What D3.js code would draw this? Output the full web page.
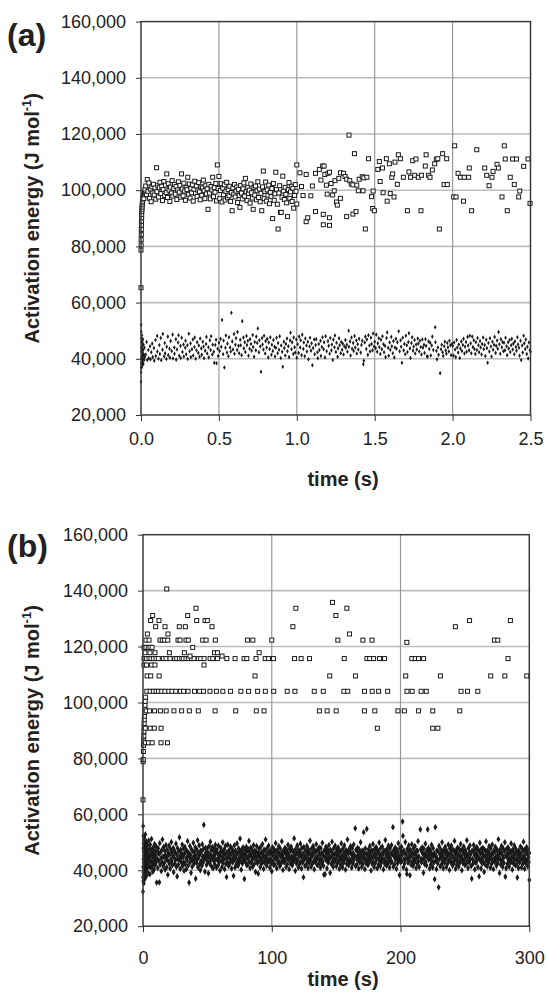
<!DOCTYPE html>
<html>
<head>
<meta charset="utf-8">
<script src="https://cdn.jsdelivr.net/npm/d3@7"></script>
<style>
  body { margin: 0; background: #fff; }
  svg { display: block; font-family: Arial, "Liberation Sans", sans-serif; }
  .tick text { font-size: 18px; fill: #222; }
  .tick line { stroke: #333; }
  .domain { display: none; }
  .panel-label { font-size: 32px; font-weight: bold; fill: #222; }
  .axis-title { font-size: 20px; font-weight: bold; fill: #222; }
</style>
</head>
<body>
<svg width="547" height="995"></svg>
<script>
const svg = d3.select("svg")

// activation energy in kJ/mol, labelled in J/mol
const energyTicks = [20, 40, 60, 80, 100, 120, 140, 160]
const timeTicksA = [0, 0.5, 1, 1.5, 2, 2.5]
const timeTicksB = [0, 100, 200, 300]

// (a) open squares [time s, E kJ/mol]
const aSquares = [
  [0,65.3],[0,78.7],[0.001,80.5],[0.001,82.4],[0.002,84.2],[0.002,86.0],[0.003,87.5],[0.003,88.9],[0.004,90.2],[0.004,91.3],
  [0.005,92.4],[0.006,93.2],[0.007,94.0],[0.008,94.8],[0.009,95.5],[0.01,96.1],[0.012,96.9],[0.014,97.4],[0.016,98.2],[0.018,97.0],
  [0.02,99.1],[0.022,98.4],[0.025,100.2],[0.028,99.0],
  [0.03,101.5],[0.035,98.4],[0.04,103.8],[0.045,99.6],[0.05,102.6],[0.055,97.1],[0.06,100.4],[0.065,95.9],[0.07,101.2],[0.075,99.0],
  [0.08,102.1],[0.085,98.3],[0.09,100.8],[0.095,96.8],[0.1,108.0],[0.102,99.5],[0.108,101.6],[0.112,97.6],[0.118,100.9],[0.122,102.8],
  [0.128,98.8],[0.133,101.4],[0.138,96.3],[0.142,100.2],[0.147,103.1],[0.152,98.1],[0.157,101.8],[0.162,99.2],[0.165,105.8],[0.17,97.4],
  [0.175,102.3],[0.18,100.0],[0.185,96.0],[0.19,101.1],[0.195,99.0],[0.2,103.4],[0.205,97.9],[0.21,100.6],[0.215,102.0],[0.22,98.6],
  [0.225,101.3],[0.23,96.7],[0.235,100.1],[0.24,103.0],[0.245,99.3],[0.25,101.7],[0.255,97.5],[0.26,105.8],[0.265,100.4],[0.27,98.0],
  [0.275,102.5],[0.28,99.7],[0.285,96.4],[0.29,101.0],[0.295,100.2],[0.3,104.6],[0.305,98.5],[0.31,102.2],[0.315,97.2],[0.32,100.7],
  [0.325,99.1],[0.33,101.9],[0.335,96.1],[0.34,100.3],[0.345,103.2],[0.35,98.9],[0.355,101.5],[0.36,97.8],[0.365,100.0],[0.37,102.7],
  [0.375,99.4],[0.38,96.6],[0.385,101.2],[0.39,98.2],[0.395,100.8],[0.4,103.6],[0.405,99.8],[0.41,97.0],[0.415,101.6],[0.42,98.7],
  [0.425,100.5],[0.43,93.2],[0.435,102.1],[0.44,99.0],[0.445,96.9],[0.45,101.3],[0.455,100.1],[0.46,104.6],[0.465,97.7],[0.47,100.9],
  [0.475,99.3],[0.48,102.4],[0.485,96.2],[0.49,109.0],[0.495,100.6],[0.5,104.9],
  [0.505,97.0],[0.51,99.9],[0.515,102.3],[0.52,95.8],[0.525,100.7],[0.53,98.4],[0.535,101.9],[0.54,96.5],[0.545,99.6],[0.55,102.8],
  [0.555,97.3],[0.56,100.2],[0.565,98.0],[0.57,101.4],[0.575,96.0],[0.58,99.2],[0.585,92.7],[0.59,100.8],[0.595,98.6],[0.6,102.0],
  [0.605,97.6],[0.61,99.7],[0.615,101.1],[0.62,95.6],[0.625,100.3],[0.63,98.1],[0.635,93.9],[0.64,101.7],[0.645,99.0],[0.65,96.9],
  [0.655,100.5],[0.66,102.6],[0.665,97.9],[0.67,104.2],[0.675,99.4],[0.68,96.3],[0.685,101.0],[0.69,98.8],[0.695,100.0],[0.7,95.4],
  [0.705,102.2],[0.71,99.1],[0.715,97.2],[0.72,93.2],[0.725,100.9],[0.73,98.3],[0.735,101.5],[0.74,96.6],[0.745,99.8],[0.75,103.0],
  [0.755,97.4],[0.76,100.4],[0.765,95.9],[0.77,98.9],[0.775,92.7],[0.78,101.2],[0.785,106.8],[0.79,97.0],[0.795,99.5],[0.8,102.9],
  [0.805,96.1],[0.81,100.1],[0.815,98.2],[0.82,101.8],[0.825,95.2],[0.83,99.3],[0.835,97.7],[0.84,100.6],[0.845,89.9],[0.85,102.4],
  [0.855,96.4],[0.86,98.7],[0.865,106.4],[0.87,100.3],[0.875,95.0],[0.88,86.2],[0.885,99.0],[0.89,101.6],[0.895,92.1],[0.9,92.1],
  [0.905,97.5],[0.91,105.0],[0.915,99.7],[0.92,96.7],[0.925,101.0],[0.93,98.5],[0.935,95.5],[0.94,90.6],[0.945,100.2],[0.95,102.7],
  [0.955,97.1],[0.96,99.4],[0.965,101.4],[0.97,96.0],[0.975,100.7],[0.98,93.6],[0.985,98.1],[0.99,102.0],[0.995,99.6],[1.0,109.0],
  [1.0,95.1],[1.02,106.2],[1.03,101.3],[1.04,98.1],[1.06,105.6],[1.06,88.8],[1.07,90.2],[1.09,98.0],[1.1,101.5],[1.12,106.0],
  [1.12,92.4],[1.145,107.4],[1.155,103.6],[1.166,108.6],[1.17,91.4],[1.17,87.7],[1.175,108.6],[1.18,105.6],[1.19,101.8],[1.195,98.6],
  [1.2,106.0],[1.21,106.4],[1.21,90.2],[1.21,87.5],[1.22,102.4],[1.23,98.3],[1.24,99.8],[1.245,103.4],[1.255,95.8],[1.26,94.7],
  [1.27,104.2],[1.28,106.2],[1.28,97.1],[1.3,106.0],[1.31,104.9],[1.32,103.9],[1.32,90.6],[1.335,119.6],[1.34,103.4],[1.35,102.2],
  [1.36,101.9],[1.36,91.5],[1.37,113.0],[1.38,92.4],[1.385,101.8],[1.395,99.8],[1.4,103.9],[1.42,104.8],[1.425,99.8],[1.43,104.4],
  [1.44,86.2],[1.45,104.6],[1.46,111.2],[1.48,97.7],[1.487,93.5],[1.49,99.7],[1.498,92.7],
  [1.52,107.4],[1.53,110.2],[1.535,103.1],[1.55,107.9],[1.554,99.1],[1.575,111.2],[1.58,96.1],[1.594,109.4],[1.6,98.8],[1.61,104.6],
  [1.615,105.8],[1.624,97.6],[1.63,110.0],[1.645,102.1],[1.652,112.6],[1.665,111.2],[1.684,104.6],[1.71,92.7],[1.72,106.5],[1.73,104.6],
  [1.744,110.5],[1.757,105.3],[1.765,111.1],[1.78,104.6],[1.797,92.7],[1.8,105.3],[1.825,108.6],[1.83,112.6],[1.846,105.3],[1.855,104.6],
  [1.87,107.2],[1.885,109.4],[1.896,111.0],[1.905,111.2],[1.915,86.2],[1.936,113.0],[1.945,102.0],[1.962,111.2],[1.966,102.0],
  [2.007,97.6],[2.013,115.8],[2.022,97.6],[2.035,106.0],[2.05,104.6],[2.07,96.1],[2.075,104.6],[2.103,104.6],[2.107,107.9],[2.122,92.7],
  [2.155,114.4],[2.206,107.9],[2.219,105.3],[2.234,101.6],[2.253,104.6],[2.26,106.7],[2.285,109.2],[2.294,107.9],[2.317,97.6],[2.332,115.8],
  [2.338,111.1],[2.351,92.7],[2.37,104.6],[2.385,111.1],[2.396,102.0],[2.41,111.1],[2.424,97.6],[2.431,99.7],[2.456,108.5],[2.484,111.1],
  [2.497,95.3]
]

// (a) filled dots [time s, E kJ/mol]
const aDots = [
  [0,31.8],[0,35.2],[0.001,37.0],[0.001,52.1],[0.002,49.6],[0.002,38.4],[0.003,44.0],[0.003,47.3],[0.004,40.2],[0.004,42.6],
  [0.005,36.9],[0.005,45.8],[0.006,41.1],[0.006,48.4],[0.007,39.3],[0.007,43.5],[0.008,37.8],[0.008,46.2],[0.009,40.8],[0.01,44.7],
  [0.01,38.9],[0.011,42.1],[0.012,47.0],[0.013,40.0],[0.014,43.2],[0.015,38.2],[0.016,45.1],[0.018,41.4],[0.02,39.6],[0.022,43.9],[0.024,40.6],
  [0.03,41.5],[0.036,46.0],[0.04,39.6],[0.047,43.1],[0.05,40.2],[0.058,44.5],[0.061,39.8],[0.066,42.3],[0.072,45.4],[0.075,40.6],
  [0.083,43.8],[0.085,39.3],[0.093,46.7],[0.095,41.0],[0.104,48.1],[0.105,42.6],[0.112,40.0],[0.118,44.9],[0.121,41.7],[0.127,47.4],
  [0.13,39.5],[0.138,43.2],[0.14,48.8],[0.149,40.9],[0.152,45.6],[0.155,42.0],[0.163,39.9],[0.165,44.3],[0.172,47.9],[0.175,41.3],
  [0.183,43.6],[0.186,40.4],[0.19,46.3],[0.197,42.8],[0.203,48.6],[0.205,40.1],[0.214,44.0],[0.215,41.8],[0.224,47.0],[0.226,39.7],
  [0.231,43.3],[0.238,45.8],[0.241,48.4],[0.245,41.1],[0.254,44.6],[0.255,40.3],[0.261,47.5],[0.266,42.4],[0.273,45.1],[0.275,40.8],
  [0.284,43.9],[0.286,46.4],[0.29,41.6],[0.298,44.8],[0.3,39.9],[0.307,48.9],[0.312,42.7],[0.318,45.5],[0.32,40.6],[0.327,43.4],
  [0.333,46.9],[0.335,41.2],[0.343,44.2],[0.345,47.6],[0.351,40.0],[0.356,43.0],[0.36,45.9],[0.368,42.1],[0.371,44.7],[0.376,40.7],
  [0.38,47.2],[0.387,43.7],[0.39,41.4],[0.397,46.1],[0.402,44.4],[0.405,40.2],[0.412,42.9],[0.418,45.3],[0.42,47.8],[0.425,41.9],
  [0.433,44.1],[0.435,40.5],[0.442,46.6],[0.447,43.1],[0.45,48.0],[0.458,41.5],[0.46,45.0],[0.467,42.5],[0.47,38.6],[0.477,44.9],
  [0.482,46.8],[0.485,38.4],[0.492,43.6],[0.495,41.0],[0.5,45.7],
  [0.505,42.8],[0.511,47.1],[0.515,44.3],[0.52,53.8],[0.527,41.6],[0.53,46.5],[0.535,36.9],[0.542,43.9],[0.545,48.3],[0.552,42.2],
  [0.555,45.4],[0.561,40.9],[0.565,47.7],[0.572,44.0],[0.576,42.6],[0.58,56.4],[0.586,46.2],[0.59,43.3],[0.597,48.8],[0.6,41.8],
  [0.606,45.0],[0.61,47.3],[0.617,43.1],[0.62,49.5],[0.626,44.6],[0.63,42.0],[0.637,46.8],[0.64,44.8],[0.646,41.3],[0.65,53.4],
  [0.657,47.6],[0.66,43.7],[0.666,45.9],[0.67,42.4],[0.677,48.1],[0.68,44.9],[0.686,46.4],[0.69,41.1],[0.697,43.6],[0.7,47.0],
  [0.706,45.3],[0.71,42.9],[0.717,48.5],[0.72,44.2],[0.726,40.7],[0.73,46.0],[0.737,43.0],[0.74,47.9],[0.746,45.6],[0.75,50.8],
  [0.757,42.3],[0.76,46.6],[0.766,44.4],[0.77,35.4],[0.777,47.4],[0.78,45.1],[0.786,43.3],[0.79,48.2],[0.797,41.9],[0.8,46.3],
  [0.806,44.0],[0.81,47.1],[0.817,40.5],[0.82,45.8],[0.826,43.5],[0.83,47.7],[0.837,41.4],[0.84,45.0],[0.846,42.8],[0.85,46.7],
  [0.857,44.3],[0.86,40.8],[0.866,43.9],[0.87,47.5],[0.877,42.0],[0.88,45.6],[0.886,43.2],[0.89,48.0],[0.897,40.3],[0.9,44.7],
  [0.906,42.5],[0.91,37.2],[0.917,46.1],[0.92,43.8],[0.926,41.2],[0.93,45.3],[0.937,47.2],[0.94,42.7],[0.946,44.5],[0.95,40.6],
  [0.957,46.5],[0.96,49.3],[0.966,43.4],[0.97,45.9],[0.977,41.7],[0.98,47.6],[0.986,44.1],[0.99,42.2],[0.997,46.9],[1.0,40.4],
  [1.005,45.2],[1.012,42.1],[1.015,47.9],[1.022,44.0],[1.025,46.6],[1.031,41.3],[1.035,48.6],[1.042,43.5],[1.045,45.8],[1.051,40.9],
  [1.055,47.2],[1.062,44.7],[1.065,42.6],[1.071,46.1],[1.075,39.8],[1.082,44.4],[1.085,47.5],[1.091,42.9],[1.095,45.5],[1.1,37.7],
  [1.105,43.8],[1.112,46.9],[1.115,41.6],[1.121,44.9],[1.125,47.0],[1.132,42.3],[1.135,40.2],[1.141,45.3],[1.145,43.1],[1.152,46.4],
  [1.155,41.0],[1.161,44.2],[1.165,47.7],[1.172,43.4],[1.175,45.9],[1.181,40.5],[1.185,48.0],[1.192,42.7],[1.2,46.3],[1.205,44.6],
  [1.211,41.8],[1.215,47.4],[1.222,43.0],[1.225,45.1],[1.231,39.6],[1.235,46.8],[1.242,44.1],[1.245,48.3],[1.251,42.4],[1.255,45.7],
  [1.262,40.7],[1.265,43.7],[1.271,47.3],[1.275,44.8],[1.282,42.0],[1.285,46.0],[1.291,43.2],[1.295,45.4],[1.3,41.5],[1.305,44.5],
  [1.312,46.7],[1.315,43.9],[1.321,45.0],[1.325,42.5],[1.333,50.0],[1.335,44.3],[1.342,46.2],[1.345,41.2],[1.351,47.6],[1.355,43.6],
  [1.362,45.6],[1.365,42.8],[1.371,48.1],[1.375,44.0],[1.382,46.5],[1.385,41.9],[1.391,45.2],[1.395,43.3],[1.4,47.1],[1.41,42.2],
  [1.415,44.9],[1.42,46.4],[1.427,38.1],[1.43,39.3],[1.436,45.8],[1.44,47.9],[1.446,43.5],[1.45,46.9],[1.456,41.4],[1.46,48.4],
  [1.466,44.7],[1.47,42.6],[1.476,47.5],[1.48,45.3],[1.486,43.0],[1.49,49.0],[1.496,44.4],
  [1.5,46.1],[1.506,43.8],[1.51,48.6],[1.516,42.5],[1.52,45.5],[1.526,47.3],[1.53,44.1],[1.536,41.7],[1.54,46.8],[1.546,43.4],
  [1.55,48.0],[1.556,45.2],[1.56,42.3],[1.566,44.6],[1.57,40.6],[1.576,47.4],[1.58,49.4],[1.586,43.9],[1.59,41.1],[1.596,45.8],
  [1.6,43.2],[1.606,47.8],[1.61,44.5],[1.616,42.0],[1.62,46.3],[1.626,40.5],[1.63,44.0],[1.636,47.1],[1.64,43.6],[1.646,45.9],
  [1.654,49.8],[1.66,42.7],[1.666,46.6],[1.67,44.3],[1.675,38.6],[1.68,47.5],[1.686,43.0],[1.69,45.3],[1.696,41.6],[1.7,48.2],
  [1.706,44.8],[1.71,42.4],[1.716,46.0],[1.72,49.1],[1.726,43.7],[1.73,40.3],[1.736,45.6],[1.74,47.7],[1.746,42.9],[1.75,44.4],
  [1.756,46.7],[1.76,41.9],[1.766,45.1],[1.77,43.3],[1.776,47.2],[1.78,45.4],[1.786,42.6],[1.79,46.4],[1.796,44.2],[1.8,41.5],
  [1.806,46.9],[1.81,43.9],[1.816,45.0],[1.82,42.1],[1.826,47.0],[1.83,44.6],[1.836,40.9],[1.84,40.7],[1.846,46.2],[1.85,43.5],
  [1.856,45.7],[1.86,41.2],[1.866,44.7],[1.87,47.9],[1.876,43.1],[1.888,51.2],[1.89,45.9],[1.896,42.8],[1.9,39.8],[1.906,44.0],
  [1.91,41.4],[1.92,34.9],[1.926,43.4],[1.93,45.0],[1.936,42.3],[1.94,41.0],[1.946,44.5],[1.95,46.1],[1.956,43.0],[1.96,41.8],
  [1.966,45.6],[1.97,44.1],[1.976,42.6],[1.98,46.4],[1.986,44.8],[1.99,41.3],[1.996,45.3],
  [2.0,44.6],[2.006,41.2],[2.01,45.8],[2.016,43.3],[2.02,40.6],[2.026,46.7],[2.03,44.0],[2.036,42.2],[2.04,45.1],[2.046,40.3],
  [2.05,43.7],[2.056,46.2],[2.06,42.8],[2.066,44.9],[2.07,47.1],[2.076,41.9],[2.08,44.3],[2.086,46.0],[2.09,42.5],[2.096,47.8],
  [2.1,44.7],[2.106,43.0],[2.11,48.2],[2.116,45.5],[2.12,42.0],[2.126,47.9],[2.13,44.2],[2.136,46.6],[2.14,43.5],[2.146,41.7],
  [2.15,45.9],[2.156,43.1],[2.16,47.4],[2.166,44.8],[2.17,42.3],[2.176,46.3],[2.18,44.0],[2.186,41.5],[2.19,45.3],[2.196,47.6],
  [2.2,43.4],[2.206,44.9],[2.21,41.0],[2.216,46.8],[2.22,43.8],[2.225,38.6],[2.23,45.6],[2.236,42.6],[2.24,47.3],[2.246,44.4],
  [2.25,40.8],[2.256,46.1],[2.26,43.2],[2.266,45.0],[2.27,47.8],[2.276,42.1],[2.28,44.6],[2.286,46.5],[2.29,43.6],[2.295,49.5],
  [2.3,45.2],[2.306,41.8],[2.31,47.0],[2.316,44.1],[2.32,46.0],[2.326,42.7],[2.33,45.7],[2.336,43.0],[2.34,47.5],[2.346,44.5],
  [2.35,41.3],[2.356,45.9],[2.36,43.7],[2.366,46.7],[2.37,42.4],[2.376,44.8],[2.38,47.1],[2.386,43.3],[2.39,45.4],[2.396,41.6],
  [2.4,46.2],[2.406,44.2],[2.41,42.9],[2.416,47.7],[2.42,45.1],[2.426,43.9],[2.43,41.1],[2.436,46.4],[2.44,39.6],[2.446,44.7],
  [2.45,42.2],[2.456,48.2],[2.46,45.5],[2.466,43.5],[2.47,46.9],[2.476,41.7],[2.48,44.3],[2.485,40.1],[2.49,45.8],[2.496,43.1],[2.5,42.5]
]

// (b) open squares [time s, E kJ/mol]
const bSquares = [
  [0,65.2],[0.1,78.8],[0.2,79.6],[0.3,82.5],[0.4,84.7],[0.5,86.3],[0.6,88.0],[0.7,89.6],[0.8,91.2],[0.9,92.5],
  [1.0,93.8],[1.1,95.1],[1.2,96.4],[1.4,97.7],[1.5,99.0],[1.7,100.4],[1.9,101.9],
  [2.0,85.6],[4.2,85.6],[7.1,85.6],[14.0,85.6],[19.0,85.6],
  [1.8,90.8],[5.6,90.8],[8.8,90.8],[14.0,90.8],[182,90.8],[225,90.8],[229,90.8],
  [2.5,97.0],[5.0,97.0],[9.0,97.0],[13.5,97.0],[18.0,97.0],[24.0,97.0],[30.0,97.0],[36.0,97.0],[43.0,97.0],[56.0,97.0],
  [72.0,97.0],[88.0,97.0],[94.0,97.0],[137,97.0],[143,97.0],[150,97.0],[172,97.0],[180,97.0],[198,97.0],[203,97.0],
  [214,97.0],[225,97.0],[246,97.0],
  [3.0,104.0],[5.5,104.0],[8.0,104.0],[10.2,104.0],[12.0,104.0],[14.5,104.0],[17.0,104.0],[20.0,104.0],[22.5,104.0],[25.5,104.0],
  [29.0,104.0],[31.5,104.0],[35.0,104.0],[40.0,104.0],[44.0,104.0],[47.0,104.0],[52.0,104.0],[57.0,104.0],[62.0,104.0],[68.0,104.0],
  [76.0,104.0],[82.0,104.0],[89.0,104.0],[95.0,104.0],[101.5,104.0],[112,104.0],[118,104.0],[133,104.0],[140,104.0],[156,104.0],
  [159,104.0],[172,104.0],[178,104.0],[183,104.0],[190,104.0],[205,104.0],[209,104.0],[216,104.0],[220,104.0],[247,104.0],
  [252,104.0],[260,104.0],
  [3.2,109.5],[6.0,109.5],[12.5,109.5],[87,109.5],[145,109.5],[165,109.5],[204,109.5],[231,109.5],[270,109.5],[281,109.5],[298,109.5],
  [0.8,113.4],[2.8,113.4],[6.7,113.4],[9.3,113.4],[47.4,113.4],
  [0.8,115.7],[2.8,115.7],[4.7,115.7],[6.2,115.7],[8.0,115.7],[10.1,115.7],[11.9,115.7],[15.8,115.7],[17.9,115.7],[21.0,115.7],
  [24.6,115.7],[26.2,115.7],[28.3,115.7],[30.1,115.7],[31.3,115.7],[33.4,115.7],[35.2,115.7],[37.6,115.7],[39.6,115.7],[43.0,115.7],
  [44.8,115.7],[47.4,115.7],[52.1,115.7],[54.2,115.7],[57.8,115.7],[65.1,115.7],[71.5,115.7],[78.5,115.7],[80.6,115.7],[87.8,115.7],
  [94.9,115.7],[97.4,115.7],[101.3,115.7],[117.7,115.7],[122.8,115.7],[129.3,115.7],[156.3,115.7],[173.9,115.7],[176.0,115.7],[179.1,115.7],
  [183.7,115.7],[187.6,115.7],[208.8,115.7],[211.4,115.7],[214.0,115.7],[217.9,115.7],[283.5,115.7],
  [36.5,116.6],[61.4,116.6],
  [1.5,117.8],[5.4,117.8],[9.3,117.8],[20.5,117.8],[32.1,117.8],[55.5,117.8],[57.8,117.8],[90.2,117.8],
  [0.8,119.7],[2.3,119.7],[4.1,119.7],[5.4,119.7],[7.0,119.7],[38.6,119.7],
  [204.9,121.5],
  [2.3,122.3],[4.7,122.3],[13.2,122.3],[15.0,122.3],[16.8,122.3],[19.2,122.3],[27.2,122.3],[28.8,122.3],[33.4,122.3],[35.2,122.3],
  [46.4,122.3],[49.0,122.3],[56.2,122.3],[81.1,122.3],[85.3,122.3],[100.0,122.3],[151.3,122.3],[170.8,122.3],[177.9,122.3],[272.9,122.3],[275.5,122.3],
  [3.4,124.5],[19.4,124.5],[160.4,124.5],
  [9.8,127.1],[17.1,127.1],[28.2,127.1],[32.9,127.1],[53.6,127.1],[116.4,127.1],[242.6,127.1],
  [5.95,129.3],[12.4,129.3],[41.7,129.3],[48.2,129.3],[50.0,129.3],[253.6,129.3],[285.3,129.3],
  [7.5,131.1],[34.7,131.1],[149.8,131.1],
  [41.2,133.7],[118.7,133.7],[158.3,133.7],
  [147.2,135.8],
  [18.4,140.6]
]

// (b) filled dots [time s, E kJ/mol]
const bDots = [
  [0,32.4],[0,37.5],[0.1,55.8],[0.1,41.2],[0.2,47.9],[0.2,36.1],[0.3,52.3],[0.3,44.0],[0.4,39.2],[0.4,49.6],
  [0.5,42.8],[0.5,46.7],[0.6,35.3],[0.6,50.9],[0.7,43.6],[0.8,40.1],[0.8,48.4],[0.9,45.2],[1.0,38.0],[1.0,51.6],
  [1.1,44.4],[1.2,41.7],[1.2,47.1],[1.3,36.8],[1.4,49.9],[1.5,43.0],[1.6,40.4],[1.7,46.3],[1.8,52.8],[1.9,42.1],
  [2.0,45.7],[2.1,39.6],[2.2,48.6],[2.3,44.9],[2.4,41.0],[2.5,47.5],[2.6,37.9],[2.7,50.3],[2.8,43.3],[2.9,46.0],
  [3.0,44.2],[3.2,40.7],[3.4,48.9],[3.6,42.5],[3.8,46.8],[4.0,39.0],[4.2,45.1],[4.4,50.6],[4.6,43.7],[4.8,41.3],
  [5.0,47.7],[5.2,44.6],[5.4,38.6],[5.6,49.2],[5.8,42.9],[6.0,46.1],[6.2,40.9],[6.4,45.5],[6.6,51.2],[6.8,43.2],
  [7.0,47.3],[7.2,41.6],[7.4,44.8],[7.6,39.5],[7.8,48.1],[8.0,45.9],[8.2,42.2],[8.4,46.9],[8.6,40.3],[8.8,44.5],
  [9.0,49.4],[9.2,43.5],[9.4,47.0],[9.6,41.9],[9.8,45.3],
  [10.0,42.7],[10.3,48.5],[10.6,35.6],[10.9,44.1],[11.2,46.6],[11.5,40.8],[11.8,47.8],[12.1,43.4],[12.4,45.8],[12.7,35.7],
  [13.0,49.7],[13.3,42.0],[13.6,46.4],[13.9,44.3],[14.2,39.7],[14.5,47.2],[14.8,43.0],[15.1,51.0],[15.4,45.0],[15.7,41.4],
  [16.0,48.3],[16.3,44.7],[16.6,42.6],[16.9,46.9],[17.2,40.2],[17.5,45.4],[17.8,49.0],[18.1,43.8],[18.4,41.1],[18.7,47.4],
  [19.0,44.9],[19.3,38.4],[19.6,46.2],[19.9,43.1],
  [20.2,48.8],[20.5,42.3],[20.8,45.7],[21.1,40.6],[21.4,47.6],[21.7,44.0],[22.0,50.1],[22.3,43.2],[22.6,46.5],[22.9,41.8],
  [23.2,45.2],[23.5,48.0],[23.8,39.3],[24.1,44.6],[24.4,47.0],[24.7,42.4],[25.0,46.3],[25.3,43.6],[25.6,49.5],[25.9,41.2],
  [26.2,45.6],[26.5,37.8],[26.8,47.9],[27.1,44.2],[27.4,42.0],[27.7,46.8],[28.0,43.7],[28.3,51.8],[28.6,45.1],[28.9,40.5],
  [29.2,47.3],[29.5,44.4],[29.8,42.8],
  [30.1,46.0],[30.4,49.2],[30.7,41.5],[31.0,44.8],[31.3,47.7],[31.6,43.0],[31.9,39.8],[32.2,45.9],[32.5,48.4],[32.8,42.1],
  [33.1,46.6],[33.4,44.3],[33.7,40.4],[34.0,47.1],[34.3,43.4],[34.6,50.4],[34.9,45.3],[35.2,41.7],[35.5,46.2],[35.8,35.6],
  [36.1,44.6],[36.4,48.7],[36.7,42.9],[37.0,45.5],[37.3,39.1],[37.6,47.5],[37.9,44.0],[38.2,41.3],[38.5,46.9],[38.8,43.5],
  [39.1,49.8],[39.4,45.0],[39.7,42.4],
  [40.0,46.5],[40.3,44.1],[40.6,48.2],[40.9,37.0],[41.2,45.2],[41.5,42.6],[41.8,47.4],[42.1,43.8],[42.4,50.7],[42.7,41.0],
  [43.0,46.1],[43.3,44.5],[43.6,48.9],[43.9,42.2],[44.2,45.8],[44.5,40.0],[44.8,47.0],[45.1,43.3],[45.4,46.7],[45.7,41.6],
  [46.0,49.3],[46.3,44.9],[46.6,42.7],[46.9,47.6],[47.2,56.2],[47.5,43.9],[47.8,45.4],[48.1,39.5],[48.4,48.0],[48.7,44.2],
  [49.0,46.4],[49.3,41.9],[49.6,45.0],[49.9,47.9],
  [50.2,43.1],[50.5,46.3],[50.8,38.9],[51.1,44.7],[51.4,48.6],[51.7,42.5],[52.0,45.7],[52.3,50.2],[52.6,43.6],[52.9,47.2],
  [53.2,41.4],[53.5,45.1],[53.8,48.3],[54.1,44.4],[54.4,40.7],[54.7,46.8],[55.0,43.2],[55.3,47.8],[55.6,45.5],[55.9,42.0],
  [56.2,49.1],[56.5,44.0],[56.8,46.6],[57.1,40.9],[57.4,47.3],[57.7,43.7],[58.0,45.9],[58.3,41.7],[58.6,48.8],[58.9,44.6],
  [59.2,42.9],[59.5,46.1],[59.8,39.9],
  [60.1,45.3],[60.4,48.0],[60.7,43.4],[61.0,46.9],[61.3,41.2],[61.6,44.8],[61.9,50.0],[62.2,42.6],[62.5,46.2],[62.8,43.9],
  [63.1,47.5],[63.4,40.4],[63.7,45.6],[64.0,48.7],[64.3,42.2],[64.6,44.3],[64.9,37.6],[65.2,46.5],[65.5,43.0],[65.8,49.2],
  [66.1,45.0],[66.4,41.5],[66.7,47.1],[67.0,44.5],[67.3,42.3],[67.6,46.0],[67.9,48.5],[68.2,43.3],[68.5,45.8],[68.8,40.6],
  [69.1,47.7],[69.4,44.1],[69.7,42.8],
  [70.0,46.7],[70.3,38.0],[70.6,45.4],[70.9,48.9],[71.2,43.8],[71.5,41.0],[71.8,47.0],[72.1,44.7],[72.4,42.1],[72.7,46.3],
  [73.0,49.6],[73.3,43.1],[73.6,45.9],[73.9,41.6],[74.2,47.8],[74.5,44.2],[74.8,42.7],[75.1,46.6],[75.4,51.3],[75.7,43.5],
  [76.0,45.2],[76.3,40.2],[76.6,47.4],[76.9,44.9],[77.2,42.4],[77.5,46.1],[77.8,48.2],[78.1,43.7],[78.4,45.7],[78.7,36.9],
  [79.0,44.0],[79.3,47.2],[79.6,42.9],[79.9,45.5],
  [80.2,48.4],[80.5,41.8],[80.8,46.8],[81.1,44.3],[81.4,42.0],[81.7,47.6],[82.0,45.0],[82.3,50.5],[82.6,43.2],[82.9,46.4],
  [83.2,40.8],[83.5,45.6],[83.8,48.1],[84.1,42.6],[84.4,44.6],[84.7,47.3],[85.0,43.9],[85.3,41.3],[85.6,46.0],[85.9,49.0],
  [86.2,44.4],[86.5,42.3],[86.8,47.0],[87.1,45.3],[87.4,39.4],[87.7,46.7],[88.0,43.6],[88.3,48.6],[88.6,44.8],[88.9,42.5],
  [89.2,46.2],[89.5,38.8],[89.8,45.1],
  [90.1,47.7],[90.4,43.4],[90.7,45.9],[91.0,41.1],[91.3,48.3],[91.6,44.5],[91.9,42.2],[92.2,46.5],[92.5,44.1],[92.8,49.4],
  [93.1,43.0],[93.4,45.6],[93.7,40.5],[94.0,47.4],[94.3,44.7],[94.6,42.7],[94.9,46.9],[95.2,51.0],[95.5,43.8],[95.8,45.3],
  [96.1,41.6],[96.4,47.9],[96.7,44.3],[97.0,42.9],[97.3,46.3],[97.6,48.8],[97.9,43.5],[98.2,45.8],[98.5,40.9],[98.8,47.1],
  [99.1,44.0],[99.4,42.4],[99.7,46.6],
  [100.0,39.6],[100.3,45.5],[100.6,48.2],[100.9,43.3],[101.2,46.0],[101.5,41.9],[101.8,47.5],[102.1,44.6],[102.4,42.0],[102.7,46.8],
  [103.0,49.7],[103.3,43.9],[103.6,45.2],[103.9,40.7],[104.2,47.2],[104.5,44.4],[104.8,42.6],[105.1,46.4],[105.4,48.6],[105.7,43.1],
  [106.0,45.7],[106.3,41.4],[106.6,47.8],[106.9,44.9],[107.2,42.3],[107.5,46.1],[107.8,50.3],[108.1,43.6],[108.4,45.4],[108.7,40.1],
  [109.0,47.0],[109.3,44.2],[109.6,42.8],[109.9,46.7],
  [110.2,48.0],[110.5,43.4],[110.8,45.9],[111.1,41.2],[111.4,47.4],[111.7,44.7],[112.0,42.1],[112.3,46.3],[112.6,49.1],[112.9,43.8],
  [113.2,45.6],[113.5,40.4],[113.8,47.7],[114.1,44.3],[114.4,42.5],[114.7,46.9],[115.0,48.5],[115.3,43.2],[115.6,45.0],[115.9,41.7],
  [116.2,47.1],[116.5,44.5],[116.8,42.9],[117.1,46.5],[117.4,51.4],[117.7,43.7],[118.0,45.3],[118.3,39.8],[118.6,47.6],[118.9,44.0],
  [119.2,42.4],[119.5,46.2],[119.8,48.9],
  [120.1,43.5],[120.4,45.8],[120.7,41.0],[121.0,47.3],[121.3,44.8],[121.6,42.2],[121.9,46.6],[122.2,49.5],[122.5,43.0],[122.8,45.5],
  [123.1,40.6],[123.4,47.9],[123.7,44.4],[124.0,42.7],[124.3,46.0],[124.6,37.5],[124.9,48.3],[125.2,43.9],[125.5,45.2],[125.8,41.5],
  [126.1,47.0],[126.4,44.6],[126.7,42.0],[127.0,46.8],[127.3,48.7],[127.6,43.3],[127.9,45.7],[128.2,40.8],[128.5,47.5],[128.8,44.1],
  [129.1,42.6],[129.4,46.4],[129.7,50.6],
  [130.0,43.6],[130.3,45.4],[130.6,41.3],[130.9,47.7],[131.2,44.9],[131.5,42.3],[131.8,46.2],[132.1,48.6],[132.4,43.1],[132.7,45.9],
  [133.0,40.3],[133.3,47.2],[133.6,44.2],[133.9,42.8],[134.2,46.7],[134.5,49.3],[134.8,43.8],[135.1,45.1],[135.4,41.8],[135.7,47.4],
  [136.0,44.5],[136.3,42.1],[136.6,46.5],[136.9,48.1],[137.2,43.4],[137.5,45.6],[137.8,40.9],[138.1,47.9],[138.4,44.0],[138.7,42.4],
  [139.0,46.1],[139.3,49.8],[139.6,43.2],[139.9,45.3],
  [140.2,41.6],[140.5,38.4],[140.8,47.1],[141.1,44.7],[141.4,38.6],[141.7,46.9],[142.0,48.4],[142.3,43.5],[142.6,45.7],[142.9,40.7],
  [143.2,47.6],[143.5,44.3],[143.8,42.7],[144.1,46.3],[144.4,49.0],[144.7,43.9],[145.0,45.0],[145.3,39.1],[145.6,47.3],[145.9,44.6],
  [146.2,42.2],[146.5,46.6],[146.8,50.2],[147.1,43.0],[147.4,45.5],[147.7,41.2],[148.0,47.8],[148.3,44.1],[148.6,42.9],[148.9,46.0],
  [149.2,48.8],[149.5,43.7],[149.8,45.8],
  [150.1,41.4],[150.4,47.4],[150.7,44.8],[151.0,42.5],[151.3,46.4],[151.6,48.2],[151.9,43.3],[152.2,45.6],[152.5,40.5],[152.8,47.0],
  [153.1,44.4],[153.4,42.1],[153.7,46.8],[154.0,49.6],[154.3,43.6],[154.6,45.2],[154.9,41.0],[155.2,47.7],[155.5,44.2],[155.8,42.6],
  [156.1,46.2],[156.4,48.9],[156.7,43.9],[157.0,45.4],[157.3,40.2],[157.6,47.2],[157.9,44.6],[158.2,42.3],[158.5,46.6],[158.8,51.0],
  [159.1,43.4],[159.4,45.9],[159.7,41.7],
  [160.0,47.5],[160.3,44.0],[160.6,42.8],[160.9,46.5],[161.2,48.6],[161.5,43.1],[161.8,45.7],[162.1,40.9],[162.4,47.9],[162.7,44.5],
  [163.0,42.4],[163.3,46.1],[163.6,49.2],[163.9,43.7],[164.2,45.3],[164.8,55.0],[165.1,41.5],[165.4,47.3],[165.7,44.7],[166.0,42.0],
  [166.3,46.9],[166.6,48.0],[166.9,43.5],[167.2,45.5],[167.5,40.6],[167.8,47.6],[168.1,44.3],[168.4,42.7],[168.7,46.3],[169.0,50.0],
  [169.3,43.2],[169.6,45.1],[169.9,41.2],
  [170.2,47.0],[170.5,44.9],[170.8,42.2],[171.1,46.7],[171.4,53.6],[171.7,43.8],[172.0,45.8],[172.3,40.4],[172.6,47.8],[172.9,44.1],
  [173.2,42.5],[173.5,46.0],[173.8,54.8],[174.1,43.3],[174.4,45.4],[174.7,41.8],[175.0,47.4],[175.3,44.6],[175.6,42.9],[175.9,46.4],
  [176.2,48.7],[176.5,43.6],[176.8,45.6],[177.1,39.9],[177.4,47.1],[177.7,44.4],[178.0,42.3],[178.3,46.8],[178.6,49.4],[178.9,43.0],
  [179.2,45.2],[179.5,41.1],[179.8,47.6],
  [180.1,44.8],[180.4,42.6],[180.7,46.2],[181.0,48.3],[181.3,43.9],[181.6,45.9],[181.9,40.7],[182.2,47.3],[182.5,44.2],[182.8,42.0],
  [183.1,46.6],[183.4,49.9],[183.7,43.4],[184.0,45.3],[184.3,41.4],[184.6,47.9],[184.9,44.5],[185.2,42.8],[185.5,46.0],[185.8,48.5],
  [186.1,43.7],[186.4,45.7],[186.7,40.3],[187.0,47.0],[187.3,44.0],[187.6,42.4],[187.9,46.9],[188.2,50.8],[188.5,43.2],[188.8,45.5],
  [189.1,41.6],[189.4,47.5],[189.7,44.7],
  [190.0,42.2],[190.3,46.4],[190.6,48.8],[190.9,43.5],[191.2,45.0],[191.5,40.9],[191.8,47.7],[192.1,44.3],[192.4,42.7],[192.7,46.1],
  [193.0,49.0],[193.3,43.0],[193.6,45.8],[194.1,55.4],[194.4,41.3],[194.7,47.2],[195.0,44.9],[195.3,42.1],[195.6,46.7],[195.9,48.1],
  [196.2,43.8],[196.5,45.4],[196.8,40.5],[197.1,47.4],[197.4,44.4],[197.7,42.5],[198.0,46.3],[198.3,49.7],[198.6,43.6],[198.9,45.1],
  [199.2,38.3],[199.5,47.9],[199.8,44.6],
  [200.1,42.9],[200.4,46.6],[200.7,48.4],[201.0,43.3],[201.3,45.6],[201.6,57.4],[201.9,52.3],[202.2,41.0],[202.5,47.1],[202.8,44.1],
  [203.1,42.3],[203.4,46.0],[203.7,50.1],[204.0,43.9],[204.3,45.9],[204.6,40.2],[204.9,38.7],[205.2,47.6],[205.5,44.5],[205.8,42.7],
  [206.1,46.8],[206.4,48.9],[206.7,43.4],[207.0,45.3],[207.3,38.2],[207.6,47.3],[207.9,44.8],[208.2,42.0],[208.5,46.4],[208.8,49.3],
  [209.1,43.1],[209.4,45.7],[209.7,41.5],
  [210.0,47.8],[210.3,44.2],[210.6,42.6],[210.9,46.2],[211.2,48.6],[211.5,43.7],[211.8,45.5],[212.1,40.8],[212.4,47.0],[212.7,44.6],
  [213.0,42.4],[213.3,46.9],[213.6,50.4],[213.9,43.2],[214.2,45.0],[214.5,41.2],[215.4,54.6],[215.7,47.5],[216.0,44.0],[216.3,42.8],
  [216.6,46.5],[216.9,48.2],[217.2,43.6],[217.5,45.8],[217.8,39.1],[218.1,47.7],[218.4,44.4],[218.7,42.2],[219.0,46.0],[219.3,49.5],
  [219.6,43.0],[219.9,45.2],
  [220.2,41.7],[220.5,47.2],[220.8,44.7],[221.1,54.6],[221.4,46.7],[221.7,48.0],[222.0,43.8],[222.3,45.6],[222.6,40.6],[222.9,47.4],
  [223.2,44.3],[223.5,42.1],[223.8,46.3],[224.1,49.1],[224.4,43.3],[224.7,45.4],[225.0,41.0],[225.3,47.9],[225.6,44.9],[225.9,42.7],
  [226.2,46.1],[226.5,36.8],[227.0,55.4],[227.3,43.5],[227.6,45.1],[227.9,40.4],[228.2,47.1],[228.5,44.1],[228.8,42.5],[229.1,46.8],
  [229.6,33.9],[229.9,48.7],
  [230.2,43.9],[230.5,45.7],[230.8,41.4],[231.1,47.6],[231.4,44.5],[231.7,42.0],[232.0,46.4],[232.3,50.0],[232.6,43.1],[232.9,45.3],
  [233.2,40.7],[233.5,47.3],[233.8,44.2],[234.1,42.6],[234.4,46.6],[234.7,48.4],[235.0,43.7],[235.3,45.9],[235.6,41.1],[235.9,47.0],
  [236.2,44.8],[236.5,42.3],[236.8,46.0],[237.1,49.2],[237.4,43.4],[237.7,45.5],[238.0,40.1],[238.3,47.8],[238.6,44.0],[238.9,42.9],
  [239.2,46.5],[239.5,48.8],[239.8,43.0],
  [240.1,45.2],[240.4,41.6],[240.7,47.4],[241.0,44.6],[241.3,42.4],[241.6,46.9],[241.9,50.5],[242.2,43.6],[242.5,45.8],[242.8,40.5],
  [243.1,47.1],[243.4,44.3],[243.7,42.1],[244.0,46.2],[244.3,48.1],[244.6,43.2],[244.9,45.4],[245.2,41.3],[245.5,47.7],[245.8,44.9],
  [246.1,42.7],[246.4,46.7],[246.7,49.4],[247.0,43.8],[247.3,45.0],[247.6,40.0],[247.9,47.5],[248.2,44.1],[248.5,42.5],[248.8,46.3],
  [249.1,48.5],[249.4,43.5],[249.7,45.6],
  [250.0,41.8],[250.3,47.2],[250.6,44.7],[250.9,42.2],[251.2,46.0],[251.5,50.7],[251.8,43.3],[252.1,45.3],[252.4,40.8],[252.7,47.9],
  [253.0,44.4],[253.3,42.8],[253.6,46.4],[253.9,48.9],[254.2,43.9],[254.5,45.7],[254.8,41.5],[255.3,37.0],[255.6,47.0],[255.9,44.0],
  [256.2,42.3],[256.5,46.8],[256.8,49.0],[257.1,43.1],[257.4,45.5],[257.7,40.3],[258.0,47.6],[258.3,44.8],[258.6,42.6],[258.9,46.1],
  [259.2,48.3],[259.5,43.7],[259.8,45.1],
  [260.1,41.1],[260.4,47.3],[260.7,44.5],[261.0,37.8],[261.3,46.6],[261.6,49.8],[261.9,43.4],[262.2,45.9],[262.5,40.6],[262.8,47.7],
  [263.1,44.2],[263.4,42.4],[263.7,46.3],[264.0,48.0],[264.3,43.0],[264.6,45.2],[264.9,39.4],[265.2,47.4],[265.5,44.9],[265.8,42.0],
  [266.1,46.9],[266.4,50.3],[266.7,43.6],[267.0,45.6],[267.3,41.4],[267.6,47.1],[267.9,44.3],[268.2,42.7],[268.5,46.5],[268.8,48.6],
  [269.1,43.8],[269.4,45.4],[269.7,40.9],
  [270.0,47.8],[270.3,44.6],[270.6,42.2],[270.9,46.0],[271.2,49.2],[271.5,43.2],[271.8,45.8],[272.1,40.4],[272.4,47.0],[272.7,44.1],
  [273.0,42.9],[273.3,46.7],[273.6,48.4],[273.9,43.5],[274.2,45.0],[274.5,41.6],[274.8,47.5],[275.1,44.7],[275.4,42.5],[275.7,46.2],
  [276.0,51.1],[276.3,43.9],[276.6,45.7],[276.9,39.0],[277.2,47.3],[277.5,44.0],[277.8,42.1],[278.1,46.4],[278.4,48.7],[278.7,43.3],
  [279.0,45.5],[279.3,41.2],[279.6,47.9],
  [280.0,44.4],[280.3,42.6],[280.6,46.8],[281.0,50.0],[281.4,37.7],[281.7,45.3],[282.0,40.7],[282.3,47.6],[282.6,44.8],[282.9,42.3],
  [283.2,46.1],[283.5,48.2],[283.8,43.7],[284.1,45.9],[284.4,41.3],[284.7,47.2],[285.0,44.2],[285.3,42.8],[285.6,46.5],[285.9,49.6],
  [286.2,43.1],[286.5,45.1],[286.8,40.2],[287.1,47.4],[287.4,44.5],[287.7,42.4],[288.0,46.3],[288.3,48.9],[288.6,43.6],[288.9,45.6],
  [289.2,41.7],[289.5,47.7],[289.8,44.1],
  [290.1,42.0],[290.4,46.6],[290.7,37.4],[291.0,43.4],[291.3,45.4],[291.6,40.8],[291.9,47.1],[292.2,44.7],[292.5,42.7],[292.8,46.0],
  [293.1,48.5],[293.4,43.8],[293.7,45.8],[294.0,41.0],[294.3,47.8],[294.6,44.3],[294.9,42.2],[295.2,46.9],[295.5,50.2],[295.8,43.2],
  [296.1,45.2],[296.4,40.5],[296.7,47.5],[297.0,44.0],[297.3,42.5],[297.6,46.4],[297.9,48.3],[298.2,43.5],[298.5,45.7],[298.8,41.4],
  [299.1,47.2],[299.4,44.6],[299.7,42.9],[300.0,36.5],[300.0,46.2]
]

const panels = [
  {
    label: "(a)", squares: aSquares, dots: aDots, xDomain: [0, 2.5], xTicks: timeTicksA,
    xFormat: d3.format(".1f"), left: 141, right: 530.5, top: 21.6, bottom: 415,
    labelY: 46, xPad: 11, titleY: 486, dotSize: 6
  },
  {
    label: "(b)", squares: bSquares, dots: bDots, xDomain: [0, 300], xTicks: timeTicksB,
    xFormat: d3.format("d"), left: 143, right: 529.3, top: 534.7, bottom: 926.2,
    labelY: 557, xPad: 19, titleY: 986, dotSize: 13
  }
]

const render = (p) => {
  const xScale = d3.scaleLinear().domain(p.xDomain).range([p.left, p.right])
  const yScale = d3.scaleLinear().domain([20, 160]).range([p.bottom, p.top])
  const g = svg.append("g")

  // grid
  g.append("g")
    .selectAll("line")
    .data(energyTicks.slice(1, -1))
    .join("line")
    .attr("x1", p.left)
    .attr("x2", p.right)
    .attr("y1", (d) => yScale(d))
    .attr("y2", (d) => yScale(d))
    .attr("stroke", "#bdbdbd")
    .attr("stroke-width", 1.6)
  g.append("g")
    .selectAll("line")
    .data(p.xTicks.slice(1, -1))
    .join("line")
    .attr("x1", (d) => xScale(d))
    .attr("x2", (d) => xScale(d))
    .attr("y1", p.top)
    .attr("y2", p.bottom)
    .attr("stroke", "#9a9a9a")
    .attr("stroke-width", 1.2)

  // dots
  g.append("g")
    .selectAll("path")
    .data(p.dots)
    .join("path")
    .attr("d", d3.symbol(d3.symbolDiamond, p.dotSize))
    .attr("transform", (d) => `translate(${xScale(d[0])},${yScale(d[1])})`)
    .attr("fill", "#1a1a1a")

  // squares
  g.append("g")
    .selectAll("rect")
    .data(p.squares)
    .join("rect")
    .attr("x", (d) => xScale(d[0]) - 2)
    .attr("y", (d) => yScale(d[1]) - 2)
    .attr("width", 4)
    .attr("height", 4)
    .attr("fill", "#fff")
    .attr("stroke", "#1a1a1a")
    .attr("stroke-width", 1)

  // frame
  g.append("rect")
    .attr("x", p.left)
    .attr("y", p.top)
    .attr("width", p.right - p.left)
    .attr("height", p.bottom - p.top)
    .attr("fill", "none")
    .attr("stroke", "#3a3a3a")
    .attr("stroke-width", 1.5)

  const yAxis = d3
    .axisLeft(yScale)
    .tickValues(energyTicks)
    .tickSize(5)
    .tickPadding(10)
    .tickFormat((d) => d3.format(",")(d * 1000))
  g.append("g").attr("transform", `translate(${p.left},0)`).call(yAxis)

  const xAxis = d3
    .axisBottom(xScale)
    .tickValues(p.xTicks)
    .tickSize(6)
    .tickPadding(p.xPad)
    .tickFormat(p.xFormat)
  g.append("g").attr("transform", `translate(0,${p.bottom})`).call(xAxis)

  // x label
  g.append("text")
    .attr("class", "axis-title")
    .attr("x", 343)
    .attr("y", p.titleY)
    .attr("text-anchor", "middle")
    .text("time (s)")

  // y label
  const yTitle = g
    .append("text")
    .attr("class", "axis-title")
    .attr("text-anchor", "middle")
    .attr("transform", `translate(39,${(p.top + p.bottom) / 2}) rotate(-90)`)
  yTitle.append("tspan").text("Activation energy (J mol")
  yTitle.append("tspan").attr("dy", -8).style("font-size", "13px").text("-1")
  yTitle.append("tspan").attr("dy", 8).text(")")

  // panel label
  svg
    .append("text")
    .attr("class", "panel-label")
    .attr("x", 7)
    .attr("y", p.labelY)
    .text(p.label)
}

panels.forEach(render)
</script>
</body>
</html>
